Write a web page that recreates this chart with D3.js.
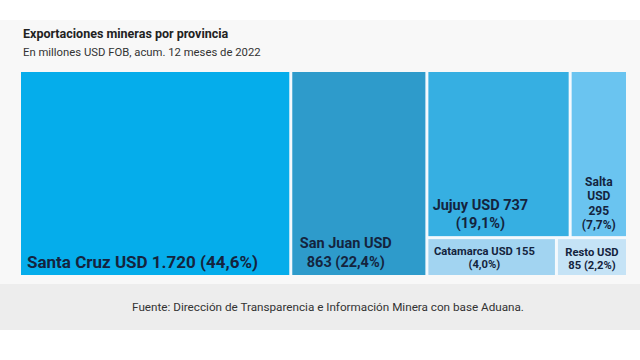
<!DOCTYPE html>
<html><head><meta charset="utf-8">
<script src="https://cdn.jsdelivr.net/npm/d3@7"></script>
<style>
html,body{margin:0;padding:0;background:#fff;}
svg{display:block;}
text{font-family:Roboto,"Noto Sans",sans-serif;}
</style></head>
<body><svg id="chart" width="640" height="360"></svg>
<script>
// ---- data ----
const provinces = ["Santa Cruz","San Juan","Jujuy","Salta","Catamarca","Resto"];
const values    = [1720, 863, 737, 295, 155, 85];
const shares    = ["44,6%","22,4%","19,1%","7,7%","4,0%","2,2%"];
const groupPath = ["", "", "resto/arriba", "resto/arriba", "resto/abajo", "resto/abajo"];
const labelLines = [
  ["Santa Cruz USD 1.720 (44,6%)"],
  ["San Juan USD","863 (22,4%)"],
  ["Jujuy USD 737","(19,1%)"],
  ["Salta","USD","295","(7,7%)"],
  ["Catamarca USD 155","(4,0%)"],
  ["Resto USD","85 (2,2%)"]
];
const title = "Exportaciones mineras por provincia";
const subtitle = "En millones USD FOB, acum. 12 meses de 2022";
const source = "Fuente: Dirección de Transparencia e Información Minera con base Aduana.";

// ---- styles ----
const colors = {"Santa Cruz":"#05adeb","San Juan":"#2e9bcb","Jujuy":"#36afe2","Salta":"#6ac4f0","Catamarca":"#a2d4f1","Resto":"#c5e3f6"};
const labelStyle = {
  "Santa Cruz": {size:17, anchor:"start", dx:6, lh:20, bottom:7},
  "San Juan":   {size:14.5, anchor:"middle", dx:53.5, lh:19, bottom:8},
  "Jujuy":      {size:14.5, anchor:"middle", dx:52, lh:18, bottom:8},
  "Salta":      {size:12, anchor:"middle", dxc:true, lh:14.5, bottom:7},
  "Catamarca":  {size:11.2, anchor:"middle", dx:56, lh:13, bottom:7},
  "Resto":      {size:11.2, anchor:"middle", dxc:true, lh:13, bottom:6}
};

const svg = d3.select("#chart");
svg.append("rect").attr("x",0).attr("y",20).attr("width",640).attr("height",264).attr("fill","#f8f8f8");
svg.append("rect").attr("x",0).attr("y",284).attr("width",640).attr("height",46).attr("fill","#ededed");

svg.append("text").attr("x",23).attr("y",38).attr("font-size",12.5).attr("font-weight",700).attr("fill","#222").text(title);
svg.append("text").attr("x",23).attr("y",56).attr("font-size",11.3).attr("fill","#333").text(subtitle);
svg.append("text").attr("x",328).attr("y",311).attr("text-anchor","middle").attr("font-size",11.7).attr("fill","#333").text(source);

// ---- hierarchy ----
const rootData = {name:"root", children:[]};
provinces.forEach((p,i)=>{
  let parent = rootData;
  if (groupPath[i]) {
    groupPath[i].split("/").forEach(g=>{
      let c = parent.children.find(d=>d.name===g);
      if(!c){ c={name:g, children:[]}; parent.children.push(c); }
      parent = c;
    });
  }
  parent.children.push({name:p, value:values[i], idx:i});
});
const root = d3.hierarchy(rootData).sum(d=>d.value||0);
d3.treemap().tile(d3.treemapSliceDice).size([605,203]).paddingInner(3)(root);

const g = svg.append("g").attr("transform","translate(21,72)");
g.append("rect").attr("width",605).attr("height",203).attr("fill","#f4f9fd");
const leaves = g.selectAll("g.leaf").data(root.leaves()).join("g").attr("class","leaf");
leaves.append("rect")
  .attr("x",d=>d.x0).attr("y",d=>d.y0)
  .attr("width",d=>d.x1-d.x0).attr("height",d=>d.y1-d.y0)
  .attr("fill",d=>colors[d.data.name]);
leaves.each(function(d){
  const s = labelStyle[d.data.name];
  const lines = labelLines[d.data.idx];
  const x = s.anchor==="start" ? d.x0+s.dx : (s.dxc ? (d.x0+d.x1)/2 : d.x0+s.dx);
  const yLast = d.y1 - s.bottom;
  const t = d3.select(this).append("text")
    .attr("text-anchor",s.anchor).attr("font-size",s.size).attr("font-weight",700).attr("fill","#14243e");
  lines.forEach((ln,k)=>{
    t.append("tspan").attr("x",x).attr("y",yLast-(lines.length-1-k)*s.lh).text(ln);
  });
});
</script></body></html>
